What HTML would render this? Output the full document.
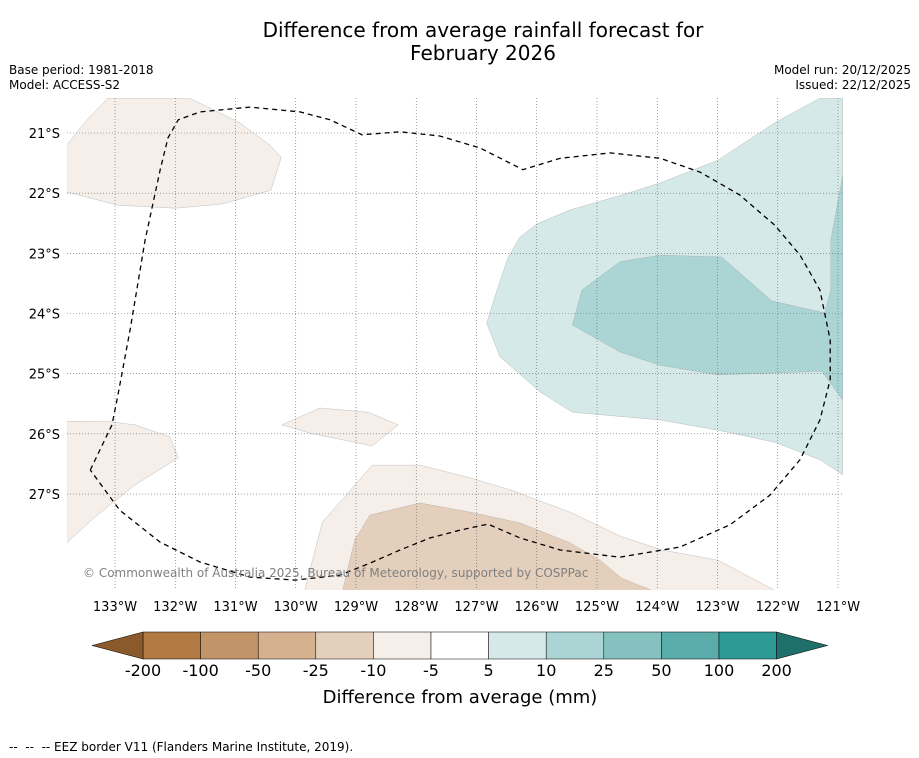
<!DOCTYPE html>
<html><head><meta charset="utf-8">
<style>
body{margin:0;background:#fff;font-family:"DejaVu Sans","Liberation Sans",sans-serif;}
#wrap{position:relative;width:919px;height:758px;overflow:hidden;background:#fff;}
.t{position:absolute;white-space:nowrap;color:#000;}
</style></head><body>
<div id="wrap">
<div class="t" style="left:0;width:966px;top:19px;text-align:center;font-size:20px;line-height:23px;">Difference from average rainfall forecast for<br>February 2026</div>
<div class="t" style="left:9px;top:63px;font-size:12px;line-height:15px;">Base period: 1981-2018<br>Model: ACCESS-S2</div>
<div class="t" style="right:8px;top:63px;font-size:12px;line-height:15px;text-align:right;">Model run: 20/12/2025<br>Issued: 22/12/2025</div>
<div class="t" style="left:9px;top:740px;font-size:12px;">--&nbsp; --&nbsp; -- EEZ border V11 (Flanders Marine Institute, 2019).</div>
<svg id="svg" width="919" height="758" style="position:absolute;left:0;top:0"></svg>
</div>
<script>
const lonTicks=[-133,-132,-131,-130,-129,-128,-127,-126,-125,-124,-123,-122,-121];
const latTicks=[-21,-22,-23,-24,-25,-26,-27];
const cbLevels=["-200","-100","-50","-25","-10","-5","5","10","25","50","100","200"];
const cbColors=["#b07a42","#c29569","#d5b190","#e4cfbc","#f5eee9","#ffffff","#d5e9e8","#aad5d4","#84c1bf","#5aacaa","#2f9995"];
const cbEnds=["#8a5a2c","#1f6f6b"];
const lightTeal=[[-126.83,-24.16],[-126.66,-23.61],[-126.48,-23.08],[-126.28,-22.73],[-126.0,-22.51],[-125.45,-22.28],[-124.59,-22.03],[-123.95,-21.83],[-122.99,-21.45],[-122.05,-20.83],[-121.30,-20.42],[-120.92,-20.42],[-120.92,-26.68],[-121.30,-26.43],[-122.05,-26.14],[-122.99,-25.94],[-123.95,-25.77],[-125.41,-25.64],[-125.95,-25.30],[-126.61,-24.72]];
const midTeal=[[-125.41,-24.19],[-125.25,-23.61],[-124.62,-23.14],[-123.95,-23.03],[-122.93,-23.06],[-122.10,-23.79],[-121.22,-23.99],[-121.12,-23.61],[-121.12,-22.78],[-120.92,-21.70],[-120.92,-25.44],[-121.10,-25.19],[-121.27,-24.96],[-122.99,-25.02],[-123.95,-24.86],[-124.62,-24.64]];
const brownTL=[[-133.80,-21.20],[-133.50,-20.82],[-133.12,-20.42],[-131.76,-20.42],[-130.93,-20.83],[-130.43,-21.20],[-130.24,-21.40],[-130.41,-21.95],[-131.22,-22.18],[-132.0,-22.25],[-132.95,-22.20],[-133.80,-21.98]];
const brownL=[[-133.80,-25.79],[-133.08,-25.80],[-132.67,-25.85],[-132.09,-26.05],[-131.95,-26.40],[-132.67,-26.85],[-133.33,-27.38],[-133.80,-27.81]];
const brownS=[[-130.23,-25.85],[-129.60,-25.57],[-128.80,-25.64],[-128.30,-25.85],[-128.73,-26.20],[-129.76,-25.99]];
const brownB=[[-129.85,-28.60],[-129.56,-27.47],[-128.73,-26.52],[-127.94,-26.52],[-127.11,-26.73],[-126.44,-26.93],[-125.45,-27.30],[-124.59,-27.71],[-123.92,-27.93],[-122.99,-28.10],[-122.05,-28.60]];
const brownB2=[[-129.22,-28.60],[-129.02,-27.76],[-128.77,-27.35],[-127.94,-27.15],[-127.11,-27.30],[-126.28,-27.48],[-125.45,-27.81],[-124.95,-28.10],[-124.59,-28.40],[-124.09,-28.60]];
const eez=[[-133.41,-26.60],[-133.05,-25.85],[-132.95,-25.35],[-132.75,-24.27],[-132.50,-22.78],[-132.25,-21.61],[-132.12,-21.08],[-131.95,-20.78],[-131.59,-20.65],[-130.76,-20.57],[-129.93,-20.65],[-129.43,-20.78],[-128.90,-21.03],[-128.27,-20.98],[-127.61,-21.05],[-126.94,-21.25],[-126.23,-21.61],[-125.61,-21.42],[-124.78,-21.33],[-123.95,-21.42],[-123.29,-21.65],[-122.63,-22.03],[-122.05,-22.53],[-121.63,-23.03],[-121.30,-23.61],[-121.13,-24.44],[-121.13,-25.10],[-121.30,-25.77],[-121.63,-26.43],[-122.13,-27.02],[-122.79,-27.51],[-123.62,-27.88],[-124.62,-28.05],[-125.61,-27.93],[-126.28,-27.73],[-126.81,-27.50],[-127.27,-27.60],[-127.77,-27.73],[-128.27,-27.93],[-128.77,-28.15],[-129.27,-28.35],[-130.01,-28.43],[-130.76,-28.38],[-131.59,-28.13],[-132.25,-27.80],[-132.92,-27.27],[-133.41,-26.60]];

const NS="http://www.w3.org/2000/svg";
const FF='DejaVu Sans, Liberation Sans, sans-serif';
const svg=document.getElementById('svg');
const X0=67,X1=843,Y0=98,Y1=590;
function xs(lon){return 115+(lon+133)*60.25;}
function ys(lat){return 133+(-21-lat)*60.17;}
function mk(tag,attrs,parent){const e=document.createElementNS(NS,tag);for(const k in attrs)e.setAttribute(k,attrs[k]);(parent||svg).appendChild(e);return e;}
const defs=mk('defs',{});
const cp=mk('clipPath',{id:'clip'},defs);
mk('rect',{x:X0,y:Y0,width:X1-X0,height:Y1-Y0},cp);
const g=mk('g',{'clip-path':'url(#clip)'});
function poly(pts,fill,name){
  const p=mk('polygon',{points:pts.map(q=>xs(q[0]).toFixed(1)+','+ys(q[1]).toFixed(1)).join(' '),fill:fill,stroke:'#999',"stroke-width":0.3},g);
  
  
}
poly(lightTeal,cbColors[6],'contour-5-10');
poly(midTeal,cbColors[7],'contour-10-25');
poly(brownTL,cbColors[4],'contour-neg5-neg10-top');
poly(brownL,cbColors[4],'contour-neg5-neg10-left');
poly(brownS,cbColors[4],'contour-neg5-neg10-small');
poly(brownB,cbColors[4],'contour-neg5-neg10-bottom');
poly(brownB2,cbColors[3],'contour-neg10-neg25-bottom');
lonTicks.forEach(l=>{
  const x=xs(l);
  if(x>X0&&x<X1){const ln=mk('line',{x1:x,x2:x,y1:Y0,y2:Y1,stroke:'#666','stroke-width':0.6,'stroke-dasharray':'1,2'},g);
  
  }
  const t=mk('text',{x:x,y:611,'font-size':13,'text-anchor':'middle','font-family':FF});
  t.textContent=Math.abs(l)+'°W';
  
  
});
latTicks.forEach(l=>{
  const y=ys(l);
  const ln=mk('line',{x1:X0,x2:X1,y1:y,y2:y,stroke:'#666','stroke-width':0.6,'stroke-dasharray':'1,2'},g);
  
  
  const t=mk('text',{x:60,y:y+5,'font-size':13,'text-anchor':'end','font-family':FF});
  t.textContent=Math.abs(l)+'°S';
  
  
});
const e=mk('polyline',{points:eez.map(q=>xs(q[0]).toFixed(1)+','+ys(q[1]).toFixed(1)).join(' '),fill:'none',stroke:'#000','stroke-width':1.3,'stroke-dasharray':'5,4'},g);


const cr=mk('text',{x:83,y:577,'font-size':12,fill:'#808080','font-family':FF});
cr.textContent='© Commonwealth of Australia 2025, Bureau of Meteorology, supported by COSPPac';


// colorbar
const cbX0=143,cbW=57.6,cbY=632,cbH=27;
cbColors.forEach((c,i)=>{
  const r=mk('rect',{x:cbX0+i*cbW,y:cbY,width:cbW,height:cbH,fill:c,stroke:'#000','stroke-width':0.5});
  
  
});
const xe=cbX0+cbColors.length*cbW;
const a1=mk('polygon',{points:`${cbX0},${cbY} 92,${cbY+cbH/2} ${cbX0},${cbY+cbH}`,fill:cbEnds[0],stroke:'#000','stroke-width':0.5});


const a2=mk('polygon',{points:`${xe},${cbY} ${xe+51},${cbY+cbH/2} ${xe},${cbY+cbH}`,fill:cbEnds[1],stroke:'#000','stroke-width':0.5});


cbLevels.forEach((lv,i)=>{
  const t=mk('text',{x:cbX0+i*cbW,y:676,'font-size':16,'text-anchor':'middle','font-family':FF});
  t.textContent=lv;
  
  
});
const ct=mk('text',{x:460,y:703,'font-size':18,'text-anchor':'middle','font-family':FF});
ct.textContent='Difference from average (mm)';


</script>
</body></html>
